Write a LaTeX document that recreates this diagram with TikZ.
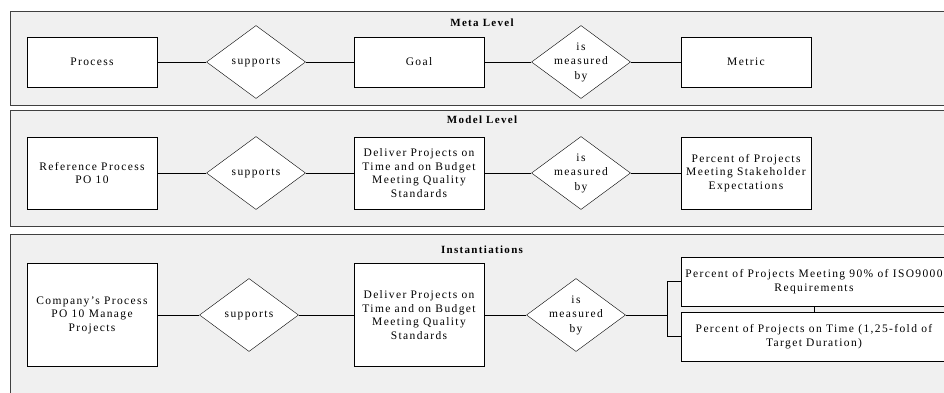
\documentclass[tikz,border=0pt]{standalone}
\usepackage{fontspec}
\setmainfont[LetterSpace=12]{Liberation Serif}
\usetikzlibrary{shapes.geometric}

\begin{document}
\begin{tikzpicture}[x=1pt,y=-1pt,
  box/.style={draw, fill=white, align=center, minimum width=130pt, inner sep=2pt, font=\fontsize{11.5}{13.5}\selectfont},
  rel/.style={draw, fill=white, diamond, aspect=1.36, inner sep=-3pt, minimum width=99pt, minimum height=73pt, align=center, font=\fontsize{11.5}{14.5}\selectfont},
  lvl/.style={draw=black!75, fill=black!6, line width=1pt},
  ttl/.style={font=\fontsize{11}{13}\selectfont\bfseries}]

\clip (0,0) rectangle (944,392);
\fill[white] (0,0) rectangle (944,392);

% the three levels
\draw[lvl] (10,11) rectangle (960,105);
\draw[lvl] (10,110) rectangle (960,226);
\draw[lvl] (10,234) rectangle (960,400);
\node[ttl] (meta) at (482,23) {Meta Level};
\node[ttl] (model) at (482,120) {Model Level};
\node[ttl] (inst) at (482,250) {Instantiations};

% meta level
\node[box, minimum height=50pt] (proc) at (92,62) {Process};
\node[rel] (sup1) at (256,62) {supports};
\node[box, minimum height=50pt] (goal) at (419,62) {Goal};
\node[rel] (mea1) at (581,62) {is\\measured\\by};
\node[box, minimum height=50pt] (metric) at (746,62) {Metric};
\draw (proc) -- (sup1) -- (goal) -- (mea1) -- (metric);

% model level
\node[box, minimum height=72pt] (refproc) at (92,173) {Reference Process\\PO 10};
\node[rel] (sup2) at (256,173) {supports};
\node[box, minimum height=72pt] (deliv2) at (419,173) {Deliver Projects on\\Time and on Budget\\Meeting Quality\\Standards};
\node[rel] (mea2) at (581,173) {is\\measured\\by};
\node[box, minimum height=72pt] (stake) at (746,173) {Percent of Projects\\Meeting Stakeholder\\Expectations};
\draw (refproc) -- (sup2) -- (deliv2) -- (mea2) -- (stake);

% instantiations
\node[box, minimum height=103pt] (compproc) at (92,315) {Company’s Process\\PO 10 Manage\\Projects};
\node[rel] (sup3) at (249,315) {supports};
\node[box, minimum height=103pt] (deliv3) at (419,315) {Deliver Projects on\\Time and on Budget\\Meeting Quality\\Standards};
\node[rel] (mea3) at (576,315) {is\\measured\\by};
\node[box, minimum width=266pt, minimum height=49pt] (iso) at (814,281.5) {Percent of Projects Meeting 90\% of ISO9000\\Requirements};
\node[box, minimum width=266pt, minimum height=49pt] (ontime) at (814,336.5) {Percent of Projects on Time (1,25-fold of\\Target Duration)};
\coordinate (fork) at (667,315);
\draw (compproc) -- (sup3) -- (deliv3) -- (mea3) -- (fork);
\draw (iso.west) -| (fork) |- (ontime.west);
\draw (iso.south) -- (ontime.north);

\end{tikzpicture}
\end{document}
